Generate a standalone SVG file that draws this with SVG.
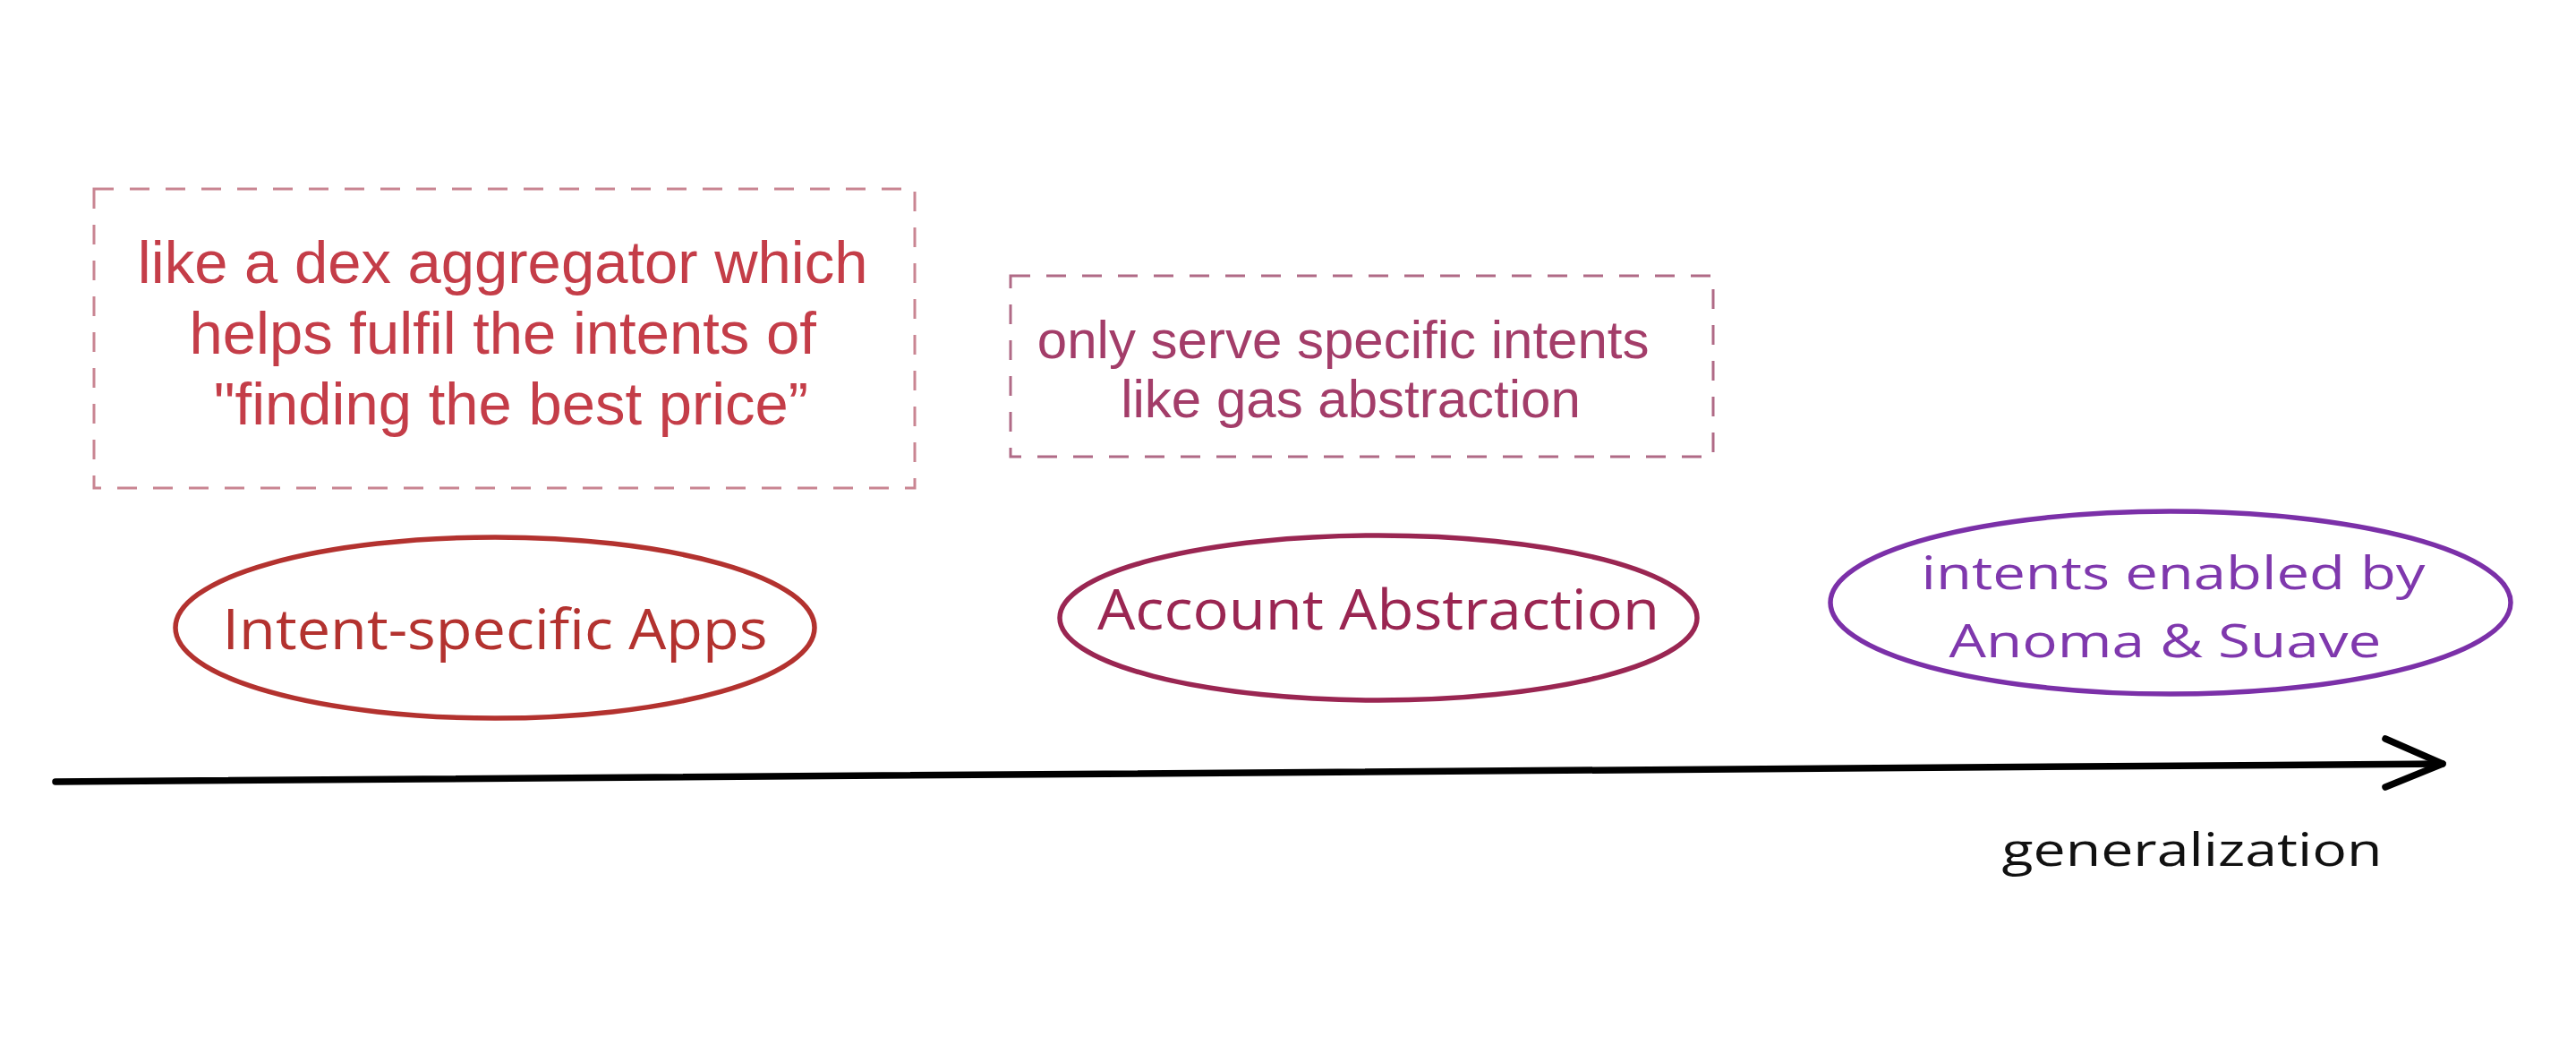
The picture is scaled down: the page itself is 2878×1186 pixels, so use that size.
<svg xmlns="http://www.w3.org/2000/svg" width="2878" height="1186" viewBox="0 0 2878 1186">
<style>
.note{font-family:"Liberation Sans",Arial,sans-serif;text-anchor:middle}
.hand{font-family:"Open Sans","DejaVu Sans",sans-serif;text-anchor:middle}
.dash{fill:none;stroke-width:3;stroke-dasharray:22 18}
.oval{fill:none;stroke-width:5.5}
</style>
<rect width="2878" height="1186" fill="#ffffff"/>
<g id="note-dex">
<rect class="dash" x="105" y="211" width="917" height="334" stroke="#c98592"/>
<text class="note" font-size="67" fill="#c43d48">
<tspan x="571" y="316">like a dex aggregator which</tspan>
<tspan x="571" y="395">helps fulfil the intents of</tspan>
<tspan x="571" y="474">"finding the best price”</tspan>
</text>
</g>
<g id="note-gas">
<rect class="dash" x="1129" y="308" width="785" height="202" stroke="#b06a86"/>
<text class="note" font-size="60" fill="#a33d69">
<tspan x="1509" y="400">only serve specific intents</tspan>
<tspan x="1509" y="466">like gas abstraction</tspan>
</text>
</g>
<g id="node-apps">
<ellipse class="oval" cx="553" cy="701" rx="357" ry="101" stroke="#b3322f"/>
<text class="hand" x="553" y="725" font-size="62" fill="#b3322f" textLength="609" lengthAdjust="spacingAndGlyphs">Intent-specific Apps</text>
</g>
<g id="node-aa">
<ellipse class="oval" cx="1540" cy="690" rx="356" ry="92" stroke="#9a2652"/>
<text class="hand" x="1540" y="703" font-size="62" fill="#9a2652" textLength="628" lengthAdjust="spacingAndGlyphs">Account Abstraction</text>
</g>
<g id="node-anoma">
<ellipse class="oval" cx="2425" cy="673" rx="380" ry="102" stroke="#7b30a8"/>
<text class="hand" x="2428" y="658" font-size="52" fill="#7f38ad" textLength="563" lengthAdjust="spacingAndGlyphs">intents enabled by</text>
<text class="hand" x="2419" y="734" font-size="52" fill="#7f38ad" textLength="483" lengthAdjust="spacingAndGlyphs">Anoma &amp; Suave</text>
</g>
<g id="connectors" fill="none" stroke="#000000" stroke-width="7.5" stroke-linecap="round" stroke-linejoin="round">
<path d="M62 873 L2729 853"/>
<path d="M2665 825 L2729 853 L2665 879"/>
</g>
<g id="axis-label">
<text class="hand" x="2449" y="967" font-size="52" fill="#111111" textLength="425" lengthAdjust="spacingAndGlyphs">generalization</text>
</g>
</svg>
